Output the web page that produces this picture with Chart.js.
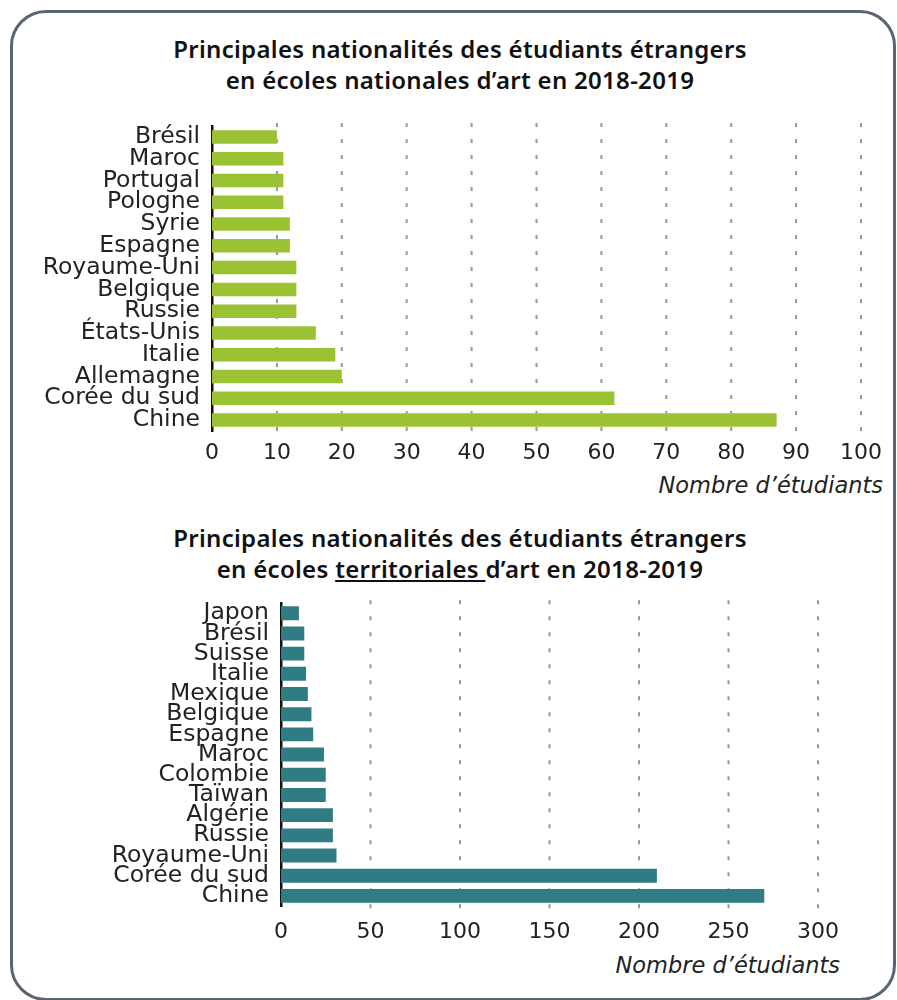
<!DOCTYPE html>
<html>
<head>
<meta charset="utf-8">
<script src="https://cdn.jsdelivr.net/npm/chart.js@4"></script>
<style>
  body { margin: 0; background: #fff; font-family: "Noto Sans", sans-serif; }
  #frame { position: absolute; left: 10px; top: 10px; width: 880px; height: 985px;
           border: 3px solid #5b6472; border-radius: 36px; }
  .title { position: absolute; left: 0; width: 920px; text-align: center; letter-spacing: 0.3px;
           font-size: 24px; font-weight: 600; line-height: 31px; color: #111; }
  .xtitle { position: absolute; font-family: "DejaVu Sans", sans-serif; font-size: 22.5px;
            font-style: italic; color: #222; text-align: right; }
  .box { position: absolute; left: 0; width: 897px; }
</style>
</head>
<body>
<div id="frame"></div>
<div class="title" style="top:33px">Principales nationalités des étudiants étrangers<br>en écoles nationales d’art en 2018-2019</div>
<div class="box" style="top:110px;height:361px"><canvas id="natChart"></canvas></div>
<div class="xtitle" style="top:472px;right:14px">Nombre d’étudiants</div>

<div class="title" style="top:522px">Principales nationalités des étudiants étrangers<br>en écoles <u>territoriales </u>d’art en 2018-2019</div>
<div class="box" style="top:590px;height:356px"><canvas id="terChart"></canvas></div>
<div class="xtitle" style="top:952px;right:57px">Nombre d’étudiants</div>

<script>
// Écoles nationales d'art
const natLabels = ['Brésil', 'Maroc', 'Portugal', 'Pologne', 'Syrie', 'Espagne', 'Royaume-Uni',
    'Belgique', 'Russie', 'États-Unis', 'Italie', 'Allemagne', 'Corée du sud', 'Chine'];
const natValues = [10, 11, 11, 11, 12, 12, 13, 13, 13, 16, 19, 20, 62, 87];
const natTicks = [0, 10, 20, 30, 40, 50, 60, 70, 80, 90, 100];

// Écoles territoriales d'art
const terLabels = ['Japon', 'Brésil', 'Suisse', 'Italie', 'Mexique', 'Belgique', 'Espagne', 'Maroc',
    'Colombie', 'Taïwan', 'Algérie', 'Russie', 'Royaume-Uni', 'Corée du sud', 'Chine'];
const terValues = [10, 13, 13, 14, 15, 17, 18, 24, 25, 25, 29, 29, 31, 210, 270];
const terTicks = [0, 50, 100, 150, 200, 250, 300];

function makeChart(id, labels, values, ticks, color, barPct, yWidth, padTop, padRight, tickPad) {
    const ctx = document.getElementById(id).getContext('2d');
    return new Chart(ctx, {
        type: 'bar',
        data: {
            labels: labels,
            datasets: [{
                data: values,
                backgroundColor: color,
                borderWidth: 0,
                categoryPercentage: 1,
                barPercentage: barPct
            }]
        },
        options: {
            indexAxis: 'y',
            responsive: true,
            maintainAspectRatio: false,
            animation: false,
            layout: { padding: { top: padTop, right: padRight, left: 0, bottom: 0 } },
            plugins: { legend: { display: false }, tooltip: { enabled: false } },
            scales: {
                x: {
                    min: ticks[0],
                    max: ticks[ticks.length - 1],
                    afterBuildTicks: scale => { scale.ticks = ticks.map(v => ({ value: v })); },
                    afterFit: scale => { scale.height = 40; },
                    grid: { display: false, drawTicks: false },
                    border: { display: false },
                    ticks: { color: '#222', font: { family: 'DejaVu Sans', size: 22 }, padding: tickPad }
                },
                y: {
                    afterFit: scale => { scale.width = yWidth; },
                    grid: { display: false, drawTicks: false },
                    border: { display: true, color: '#111', width: 2.5 },
                    ticks: { color: '#222', font: { family: 'DejaVu Sans', size: 23.5, lineHeight: 0.1 }, padding: 12, autoSkip: false }
                }
            }
        },
        plugins: [{
            // dashed vertical gridlines
            id: 'dashGrid',
            beforeDatasetsDraw(chart) {
                const c = chart.ctx, x = chart.scales.x, a = chart.chartArea;
                c.save();
                c.strokeStyle = '#9198a4';
                c.lineWidth = 2;
                c.setLineDash([4, 12]);
                ticks.forEach(v => {
                    if (v === 0) return;
                    const px = x.getPixelForValue(v);
                    c.beginPath();
                    c.moveTo(px, a.top - 3);
                    c.lineTo(px, a.bottom + 3);
                    c.stroke();
                });
                c.restore();
            }
        }]
    });
}

makeChart('natChart', natLabels, natValues, natTicks, '#9bc232', 0.62, 212, 16, 36, 9);
makeChart('terChart', terLabels, terValues, terTicks, '#2f7c84', 0.69, 281, 12, 79, 13);
</script>
</body>
</html>
